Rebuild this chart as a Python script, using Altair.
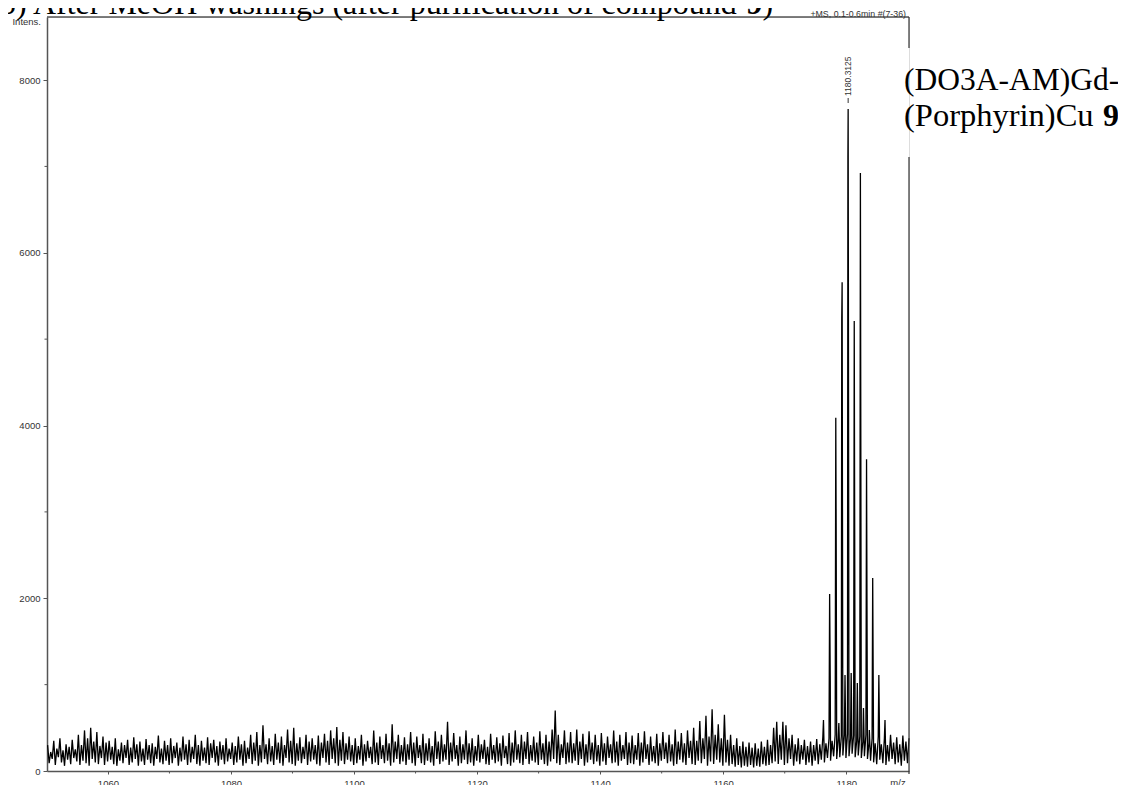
import altair as alt
import pandas as pd

# ---- data ----
# noise maxima, one every 0.5 m/z starting at 1050.2
noise_hi = [
    300, 220, 350, 260, 380, 240, 310, 280, 360, 250,
    420, 300, 470, 380, 500, 340, 450, 290, 400, 330,
    350, 280, 380, 250, 330, 300, 360, 270, 390, 310,
    340, 260, 370, 300, 320, 280, 410, 260, 350, 300,
    380, 290, 330, 270, 400, 310, 360, 280, 420, 300,
    350, 270, 390, 320, 360, 290, 340, 300, 380, 260,
    330, 290, 400, 310, 350, 270, 420, 330, 450, 300,
    530, 310, 380, 290, 430, 330, 400, 300, 480, 350,
    500, 320, 390, 280, 420, 340, 380, 300, 410, 330,
    430, 350, 470, 380, 510, 360, 450, 320, 400, 300,
    380, 290, 420, 310, 350, 280, 470, 330, 400, 300,
    430, 320, 540, 340, 420, 300, 390, 310, 450, 330,
    400, 300, 430, 320, 380, 290, 460, 340, 420, 310,
    570, 330, 440, 300, 400, 310, 470, 320, 380, 290,
    420, 310, 360, 280, 430, 300, 390, 320, 410, 290,
    440, 330, 470, 310, 420, 340, 450, 300, 400, 330,
    460, 320, 420, 340, 480, 700, 420, 310, 470, 330,
    450, 320, 480, 340, 430, 310, 460, 330, 420, 300,
    440, 320, 400, 310, 470, 340, 420, 300, 450, 330,
    410, 300, 440, 330, 460, 310, 400, 290, 430, 320,
    450, 330, 420, 310, 480, 340, 440, 320, 470, 350,
    500, 350, 580, 380, 640, 400, 715, 420, 540, 380,
    650, 360, 420, 300, 380, 290, 340, 280, 330, 270,
    320, 260, 340, 280, 360, 300, 500, 570, 420, 570,
    530, 380, 420, 310, 380, 300, 360, 290, 340, 300,
    370, 310, 400, 320, 380, 350, 420, 380, 400, 420,
    430, 380, 410, 350, 400, 340, 420, 330, 380, 320,
    400, 310, 380, 300, 420, 330, 390, 310, 410, 340,
    380,
]
# noise minima, one every 0.5 m/z starting at 1050.45
noise_lo = [
    90, 140, 70, 160, 100, 60, 130, 80, 150, 110,
    70, 120, 90, 60, 140, 100, 80, 150, 70, 110,
    130, 80, 60, 120, 90, 150, 70, 100, 140, 60,
    110, 70, 130, 90, 60, 140, 100, 80, 120, 70,
    90, 150, 60, 110, 130, 70, 100, 140, 80, 60,
    120, 90, 70, 150, 100, 60, 130, 80, 110, 140,
    70, 100, 130, 60, 90, 140, 80, 120, 60, 100,
    140, 80, 110, 70, 130, 90, 60, 150, 100, 80,
    60, 120, 90, 140, 70, 110, 130, 80, 60, 150,
    100, 70, 140, 90, 60, 120, 80, 130, 110, 70,
    90, 130, 60, 110, 150, 80, 100, 70, 140, 90,
    120, 60, 100, 140, 80, 110, 70, 130, 90, 60,
    150, 90, 70, 120, 100, 60, 140, 80, 110, 130,
    70, 110, 140, 60, 90, 130, 80, 100, 60, 120,
    100, 140, 80, 70, 130, 90, 110, 60, 150, 80,
    60, 100, 130, 90, 70, 140, 80, 120, 100, 70,
    130, 80, 60, 110, 140, 90, 70, 150, 80, 100,
    90, 120, 70, 140, 60, 100, 130, 80, 110, 60,
    110, 70, 150, 90, 100, 60, 120, 140, 70, 90,
    80, 130, 60, 100, 140, 70, 110, 90, 60, 120,
    140, 90, 110, 60, 80, 130, 100, 70, 150, 80,
    70, 120, 90, 140, 60, 110, 80, 130, 100, 60,
    100, 60, 80, 50, 70, 40, 60, 50, 70, 40,
    60, 50, 80, 60, 70, 90, 110, 80, 130, 70,
    90, 140, 60, 110, 80, 130, 70, 100, 60, 120,
    80, 130, 100, 150, 120, 170, 140, 160, 180, 150,
    170, 200, 160, 180, 150, 170, 140, 120, 100, 80,
    130, 90, 70, 110, 140, 80, 100, 60, 120, 90,
]
# isotope cluster of compound 9
peak_mz = [1176.3, 1177.3, 1177.4, 1178.3, 1178.36, 1178.8, 1179.27, 1179.33,
           1179.8, 1180.27, 1180.31, 1180.8, 1181.3, 1181.8, 1182.3, 1182.8,
           1183.3, 1183.75, 1184.3, 1185.3, 1186.3]
peak_int = [590, 2050, 1050, 4090, 2880, 555, 5240, 5660,
            1110, 7110, 7665, 1135, 5210, 1020, 6925, 730,
            3610, 475, 2235, 1110, 590]

x_major = [1060, 1080, 1100, 1120, 1140, 1160, 1180]
x_minor = [1070, 1090, 1110, 1130, 1150, 1170]
y_major = [0, 2000, 4000, 6000, 8000]
y_minor = [1000, 3000, 5000, 7000]

mz_all, it_all = [], []
for i, v in enumerate(noise_hi):
    mz_all.append(round(1050.2 + 0.5 * i, 3)); it_all.append(v)
for i, v in enumerate(noise_lo):
    mz_all.append(round(1050.45 + 0.5 * i, 3)); it_all.append(v)
mz_all += peak_mz
it_all += peak_int
spec = pd.DataFrame({"mz": mz_all, "inten": it_all}).sort_values("mz")

W, H = 862, 754
xs = alt.Scale(domain=[1050.1, 1190.2], nice=False, zero=False)
ys = alt.Scale(domain=[0, 8730], nice=False)
SANS = "Liberation Sans"
SERIF = "Liberation Serif"
FRAME = "#555555"

line = alt.Chart(spec).mark_line(color="black", strokeWidth=1.3).encode(
    x=alt.X("mz:Q", scale=xs, axis=alt.Axis(
        values=x_major, format="d", title=None, grid=False, labelFont=SANS,
        labelFontSize=9.5, labelColor="#333333", tickColor=FRAME, tickSize=3,
        domainColor=FRAME, domainWidth=1.5, labelPadding=4)),
    y=alt.Y("inten:Q", scale=ys, axis=alt.Axis(
        values=y_major, format="d", title=None, grid=False, labelFont=SANS,
        labelFontSize=9.5, labelColor="#333333", tickColor=FRAME, tickSize=4,
        domainColor=FRAME, domainWidth=1.5, labelPadding=3)),
)

xmin_df = pd.DataFrame({"mz": x_minor})
xminor = alt.Chart(xmin_df).mark_rule(color=FRAME, strokeWidth=1).encode(
    x=alt.X("mz:Q", scale=xs), y=alt.value(H), y2=alt.value(H + 2.5))
ymin_df = pd.DataFrame({"inten": y_minor})
yminor = alt.Chart(ymin_df).mark_rule(color=FRAME, strokeWidth=1).encode(
    y=alt.Y("inten:Q", scale=ys), x=alt.value(-2.5), x2=alt.value(0))

one = pd.DataFrame({"a": [0]})
base = alt.Chart(one)
frame_top = base.mark_rule(color=FRAME, strokeWidth=1.5).encode(
    x=alt.value(0), x2=alt.value(W), y=alt.value(0))
frame_r1 = base.mark_rule(color="#333333", strokeWidth=1.2).encode(
    x=alt.value(W), y=alt.value(0), y2=alt.value(31))
frame_r2 = base.mark_rule(color="#333333", strokeWidth=1.2).encode(
    x=alt.value(W), y=alt.value(140), y2=alt.value(H + 3))

def txt(s, x, y, size, font=SANS, align="left", weight="normal", angle=0,
        baseline="alphabetic", color="black"):
    return base.mark_text(text=s, font=font, fontSize=size, align=align,
                          baseline=baseline, fontWeight=weight, angle=angle,
                          color=color).encode(x=alt.value(x), y=alt.value(y))

title1 = txt("b) After MeOH washings (after purification of compound ", -47, -3, 32, font=SERIF)
title2 = txt("9", 699.5, -3, 32, font=SERIF, weight="bold")
title3 = txt(")", 715.5, -3, 32, font=SERIF)
intens = txt("Intens.", -6, 5, 9.5, align="right", baseline="middle", color="#333333")
ms = txt("+MS, 0.1-0.6min #(7-36)", 859, -3, 8.8, align="right", baseline="middle", color="#333333")
mzlab = txt("m/z", 851, H + 12, 9.5, align="center", baseline="middle", color="#333333")
lab1 = txt("(DO3A-AM)Gd-", 857, 73, 31.5, font=SERIF)
lab2 = txt("(Porphyrin)Cu", 857, 109, 32.5, font=SERIF)
lab3 = txt("9", 1056, 109, 32, font=SERIF, weight="bold")

pk_df = pd.DataFrame({"mz": [1180.31], "lab": ["1180.3125"]})
pk_text = alt.Chart(pk_df).mark_text(font=SANS, fontSize=8.5, angle=270, align="left",
                                      baseline="middle", color="#333333").encode(
    x=alt.X("mz:Q", scale=xs), y=alt.value(79), text="lab:N")
pk_tick = alt.Chart(pk_df).mark_rule(color="#333333", strokeWidth=1).encode(
    x=alt.X("mz:Q", scale=xs), y=alt.value(81), y2=alt.value(86))

chart = alt.layer(
    line, xminor, yminor, frame_top, frame_r1, frame_r2,
    title1, title2, title3, intens, ms, mzlab, lab1, lab2, lab3, pk_text, pk_tick,
).properties(
    width=W, height=H,
    autosize=alt.AutoSizeParams(type="none"),
    padding={"left": 39, "top": 9, "right": 209, "bottom": 22},
).configure_view(strokeWidth=0).configure(background="white")

chart.save("out.html", embed_options={"renderer": "svg", "actions": False})
